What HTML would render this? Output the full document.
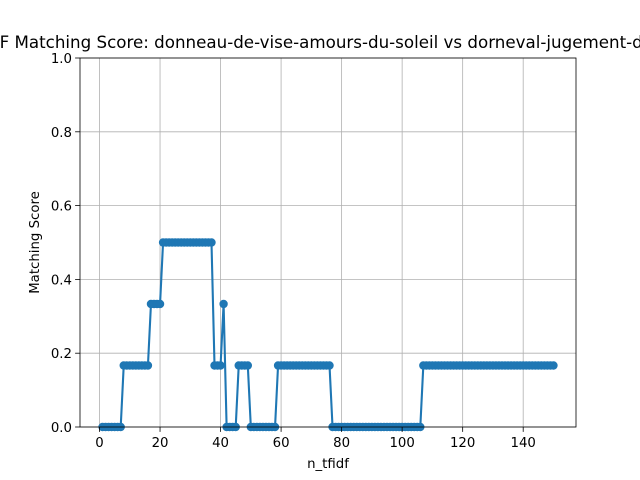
<!DOCTYPE html>
<html><head><meta charset="utf-8"><style>
html,body{margin:0;padding:0;background:#fff;}
svg{display:block;font-family:"DejaVu Sans","Liberation Sans",sans-serif;}
</style></head><body>
<svg id="chart" width="640" height="480" viewBox="0 0 640 480" xmlns="http://www.w3.org/2000/svg">
<rect x="0" y="0" width="640" height="480" fill="#fff"/>
<g id="grid"></g>
<g id="series"></g>
<g id="axes"></g>
<text x="328" y="48" font-size="16.7" text-anchor="middle" fill="#000">TF-IDF Matching Score: donneau-de-vise-amours-du-soleil vs dorneval-jugement-de-paris</text>
<text x="328" y="468" font-size="13.3" text-anchor="middle" fill="#000">n_tfidf</text>
<text transform="translate(39,242.5) rotate(-90)" font-size="13.3" text-anchor="middle" fill="#000">Matching Score</text>
</svg>
<script>
const xTicks = [0, 20, 40, 60, 80, 100, 120, 140];
const yTicks = [0, 0.2, 0.4, 0.6, 0.8, 1.0];
const yTickLabels = ["0.0", "0.2", "0.4", "0.6", "0.8", "1.0"];
const nValues = [];
for (let n = 1; n <= 150; n++) nValues.push(n);
const segStarts = [1, 8, 17, 21, 38, 41, 42, 46, 50, 59, 77, 107];
const segValues = [0, 1/6, 1/3, 0.5, 1/6, 1/3, 0, 1/6, 0, 1/6, 0, 1/6];
const scores = nValues.map(n => { let v = 0; for (let i = 0; i < segStarts.length; i++) if (n >= segStarts[i]) v = segValues[i]; return v; });

const L = 80, R = 576, T = 58, B = 427;
const xMin = -6.45, xMax = 157.45;
const xs = v => L + (v - xMin) / (xMax - xMin) * (R - L);
const ys = v => B - v * (B - T);
const NS = "http://www.w3.org/2000/svg";
function mk(tag, attrs, parent) { const e = document.createElementNS(NS, tag); for (const k in attrs) e.setAttribute(k, attrs[k]); parent.appendChild(e); return e; }
const grid = document.getElementById('grid'), axes = document.getElementById('axes'), series = document.getElementById('series');

xTicks.forEach(t => {
  const g = mk('line', {x1: xs(t), x2: xs(t), y1: T, y2: B, stroke: '#b0b0b0', 'stroke-width': 0.8}, grid);
  
  
  const tk = mk('line', {x1: xs(t), x2: xs(t), y1: B, y2: B + 4.9, stroke: '#000', 'stroke-width': 0.8}, axes);
  
  
  const lb = mk('text', {x: xs(t), y: B + 20, 'font-size': 13.3, 'text-anchor': 'middle', fill: '#000'}, axes);
  lb.textContent = t;
  
  
});
yTicks.forEach((t, i) => {
  const g = mk('line', {x1: L, x2: R, y1: ys(t), y2: ys(t), stroke: '#b0b0b0', 'stroke-width': 0.8}, grid);
  
  
  const tk = mk('line', {x1: L - 4.9, x2: L, y1: ys(t), y2: ys(t), stroke: '#000', 'stroke-width': 0.8}, axes);
  
  
  const lb = mk('text', {x: L - 8, y: ys(t) + 5, 'font-size': 13.3, 'text-anchor': 'end', fill: '#000'}, axes);
  lb.textContent = yTickLabels[i];
  
  
});
const frame = mk('rect', {x: L, y: T, width: R - L, height: B - T, fill: 'none', stroke: '#000', 'stroke-width': 0.8}, axes);



const pts = nValues.map((n, i) => xs(n) + ',' + ys(scores[i])).join(' ');
const line = mk('polyline', {points: pts, fill: 'none', stroke: '#1f77b4', 'stroke-width': 2.1, 'stroke-linejoin': 'round'}, series);


nValues.forEach((n, i) => {
  const c = mk('circle', {cx: xs(n), cy: ys(scores[i]), r: 4.2, fill: '#1f77b4'}, series);
  
  
});
</script>
</body></html>
